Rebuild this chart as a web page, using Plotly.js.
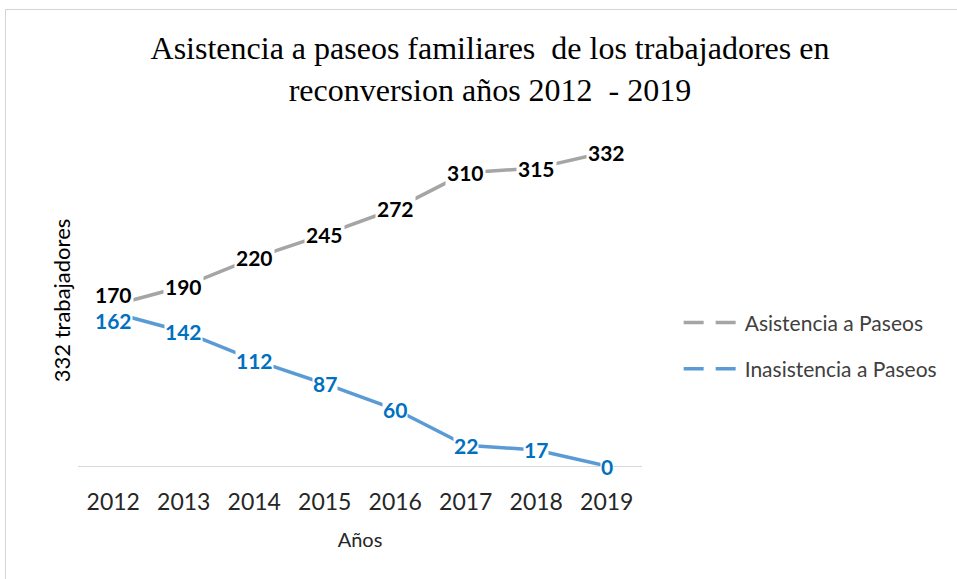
<!DOCTYPE html>
<html>
<head>
<meta charset="utf-8">
<script src="https://cdn.plot.ly/plotly-3.0.1.min.js"></script>
<style>
  body { margin: 0; background: #fff; }
  #frame { position: absolute; left: 5px; top: 9px; width: 1000px; height: 700px; border: 1px solid #d4d4d4; }
  #chart { position: absolute; left: 0; top: 0; width: 957px; height: 579px; }
</style>
</head>
<body>
<div id="frame"></div>
<div id="chart"></div>
<script>
// datos
const years = ['2012', '2013', '2014', '2015', '2016', '2017', '2018', '2019'];
const asistencia = [170, 190, 220, 245, 272, 310, 315, 332];
const inasistencia = [162, 142, 112, 87, 60, 22, 17, 0];
const seriesNames = ['Asistencia a Paseos', 'Inasistencia a Paseos'];

const grayLine = '#a5a5a5';
const blueLine = '#5b9bd5';
const sansFont = 'Lato, "Open Sans", sans-serif';

const traces = [
  { x: years, y: asistencia, type: 'scatter', mode: 'lines', line: { color: grayLine, width: 3.5 }, showlegend: false, hoverinfo: 'skip' },
  { x: years, y: inasistencia, type: 'scatter', mode: 'lines', line: { color: blueLine, width: 3.5 }, showlegend: false, hoverinfo: 'skip' },
  // entradas de leyenda con línea discontinua
  { x: [null], y: [null], type: 'scatter', mode: 'lines', name: seriesNames[0], legendgroup: 'a', line: { color: grayLine, width: 3.5, dash: '20px,12px' } },
  { x: [null], y: [null], type: 'scatter', mode: 'lines', name: seriesNames[1], legendgroup: 'b', line: { color: blueLine, width: 3.5, dash: '20px,12px' } }
];

// etiquetas con fondo blanco, como en Excel (x = índice de categoría)
const annotations = [];
years.forEach(function(yr, i) {
  annotations.push({ x: i, y: asistencia[i], text: String(asistencia[i]), showarrow: false,
    yshift: i === 0 ? 11 : 0,
    bgcolor: '#ffffff', borderpad: 1, font: { family: sansFont, size: 21, color: '#000000', weight: 'bold' } });
});
years.forEach(function(yr, i) {
  annotations.push({ x: i, y: inasistencia[i], text: String(inasistencia[i]), showarrow: false,
    yshift: i === 0 ? -8 : 0,
    bgcolor: '#ffffff', borderpad: 0, font: { family: sansFont, size: 21, color: '#0070c0', weight: 'bold' } });
});

const layout = {
  width: 957,
  height: 579,
  margin: { l: 78, r: 315, t: 135, b: 113 },
  paper_bgcolor: 'rgba(0,0,0,0)',
  plot_bgcolor: 'rgba(0,0,0,0)',
  title: {
    text: 'Asistencia a paseos familiares  de los trabajadores en<br>reconversion años 2012  - 2019',
    font: { family: '"Liberation Serif", "Times New Roman", serif', size: 32, color: '#000000' },
    x: 0.512, xref: 'container', xanchor: 'center',
    y: 0.898, yref: 'container', yanchor: 'middle'
  },
  xaxis: {
    type: 'category',
    range: [-0.5, 7.5],
    showgrid: false,
    showline: true,
    linecolor: '#d9d9d9',
    linewidth: 1,
    ticks: '',
    ticklabelstandoff: 15,
    tickfont: { family: sansFont, size: 23, color: '#262626' },
    title: { text: 'Años', font: { family: sansFont, size: 20, color: '#262626' }, standoff: 19 },
    fixedrange: true
  },
  yaxis: {
    range: [0, 350],
    showgrid: false,
    zeroline: false,
    showline: false,
    showticklabels: false,
    ticks: '',
    title: { text: '332 trabajadores', font: { family: sansFont, size: 22, color: '#000000' }, standoff: 0 },
    fixedrange: true
  },
  legend: {
    x: 1.065, xanchor: 'left',
    y: 0.363, yanchor: 'middle',
    font: { family: sansFont, size: 21, color: '#404040' },
    traceorder: 'grouped',
    tracegroupgap: 16,
    itemwidth: 56
  },
  annotations: annotations,
  showlegend: true
};

Plotly.newPlot('chart', traces, layout, { displayModeBar: false, staticPlot: true });
</script>
</body>
</html>
